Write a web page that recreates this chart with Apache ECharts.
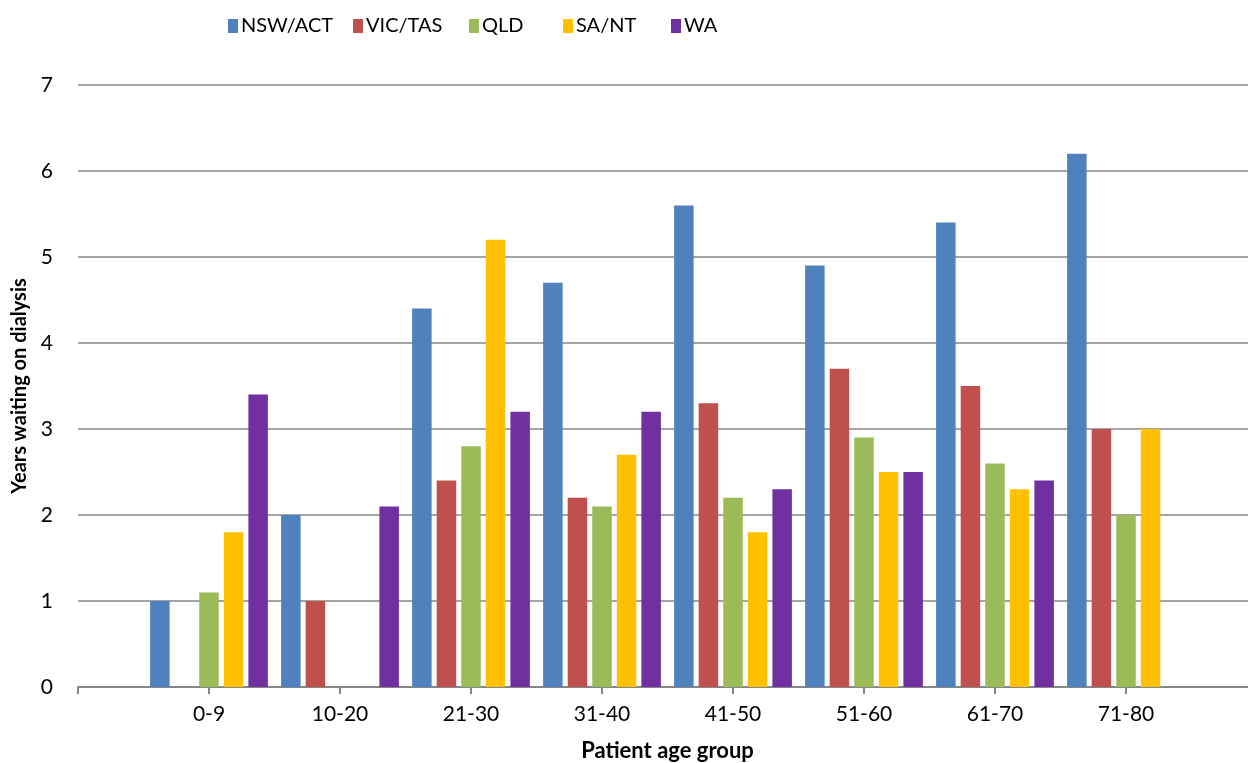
<!DOCTYPE html>
<html>
<head>
<meta charset="utf-8">
<script src="https://cdn.jsdelivr.net/npm/echarts@6/dist/echarts.min.js"></script>
<style>
  html, body { margin: 0; padding: 0; background: #fff; }
  #chart { width: 1248px; height: 763px; }
</style>
</head>
<body>
<div id="chart"></div>
<script>
// age groups, with an empty slot at each end (the axis starts on a tick)
const ageGroups = ["", "0-9", "10-20", "21-30", "31-40", "41-50", "51-60", "61-70", "71-80", ""];
const regions = ["NSW/ACT", "VIC/TAS", "QLD", "SA/NT", "WA"];
const nswAct = [null, 1, 2, 4.4, 4.7, 5.6, 4.9, 5.4, 6.2, null];
const vicTas = [null, null, 1, 2.4, 2.2, 3.3, 3.7, 3.5, 3.0, null];
const qld = [null, 1.1, null, 2.8, 2.1, 2.2, 2.9, 2.6, 2.0, null];
const saNt = [null, 1.8, null, 5.2, 2.7, 1.8, 2.5, 2.3, 3.0, null];
const wa = [null, 3.4, 2.1, 3.2, 3.2, 2.3, 2.5, 2.4, null, null];

const colors = ["#4F81BD", "#C0504D", "#9BBB59", "#FFC000", "#7030A0"];
const legendLeft = [223, 348, 464, 558, 666];
const font = "Lato, 'Open Sans', sans-serif";
const chart = echarts.init(document.getElementById("chart"));

const bar = (name, data, color) => ({
  name: name,
  type: "bar",
  data: data,
  barWidth: 19.5,
  barGap: "26%",
  itemStyle: { color: color },
});

// one legend per item so each sits where the original put it
const legends = regions.map((r, i) => ({
  top: 11,
  left: legendLeft[i],
  itemWidth: 10,
  itemHeight: 14,
  icon: "rect",
  textStyle: { fontSize: 20, color: "#000", fontFamily: font, padding: [0, 0, 0, -2] },
  data: [r],
}));

chart.setOption({
  animation: false,
  textStyle: { fontFamily: font },
  legend: legends,
  grid: {
    left: 78,
    top: 85,
    right: -9,
    bottom: 76,
    outerBoundsMode: "none",
  },
  xAxis: {
    type: "category",
    data: ageGroups,
    boundaryGap: false,
    name: "Patient age group",
    nameLocation: "middle",
    nameGap: 53,
    nameTextStyle: { fontSize: 22, fontWeight: "bold", color: "#000", fontFamily: font },
    axisLine: { lineStyle: { color: "#868686", width: 2 } },
    axisTick: { length: 7, lineStyle: { color: "#868686", width: 2 } },
    axisLabel: { fontSize: 21, color: "#000", margin: 17, interval: 0 },
  },
  yAxis: {
    type: "value",
    min: 0,
    max: 7,
    interval: 1,
    name: "Years waiting on dialysis",
    nameLocation: "middle",
    nameGap: 48,
    nameTextStyle: { fontSize: 20, fontWeight: "bold", color: "#000", fontFamily: font },
    axisLine: { show: false },
    axisTick: { show: false },
    axisLabel: { fontSize: 21, color: "#000", margin: 25 },
    splitLine: { lineStyle: { color: "#868686", width: 1.5 } },
  },
  series: [
    bar(regions[0], nswAct, colors[0]),
    bar(regions[1], vicTas, colors[1]),
    bar(regions[2], qld, colors[2]),
    bar(regions[3], saNt, colors[3]),
    bar(regions[4], wa, colors[4]),
  ],
});
</script>
</body>
</html>
